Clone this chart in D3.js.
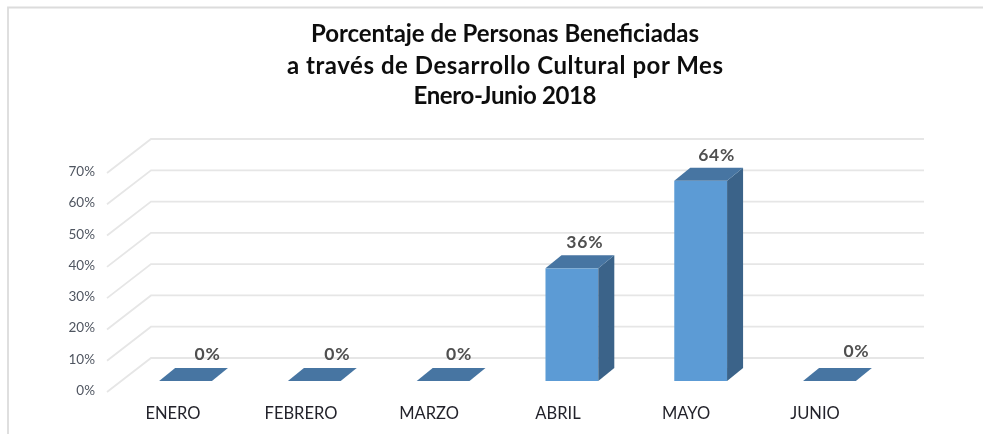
<!DOCTYPE html>
<html><head><meta charset="utf-8">
<script src="https://cdn.jsdelivr.net/npm/d3@7"></script>
<style>html,body{margin:0;background:#fff}svg{display:block}</style></head>
<body><svg id="c" width="983" height="434"></svg>
<script>
const categories = ["ENERO","FEBRERO","MARZO","ABRIL","MAYO","JUNIO"];
const values = [0,0,0,36,64,0];
const valueLabels = ["0%","0%","0%","36%","64%","0%"];
const tickValues = [0,10,20,30,40,50,60,70];
const titleLines = ["Porcentaje de Personas Beneficiadas","a través de Desarrollo Cultural por Mes","Enero-Junio 2018"];

const svg = d3.select("#c");
const defs = svg.append("defs");
defs.append("filter").attr("id","soft").attr("x","-5%").attr("y","-5%").attr("width","110%").attr("height","110%")
  .append("feGaussianBlur").attr("stdDeviation",0.55);
const root = svg.append("g").attr("filter","url(#soft)");

const depthX = 16, depthY = -13;
const x = d3.scaleBand().domain(categories).range([120.5,894.5]).paddingInner(0.59).paddingOuter(0.3);
const y = d3.scaleLinear().domain([0,70]).range([381,162]);

// frame
root.append("path").attr("d","M8 434V7.5H983").attr("fill","none").attr("stroke","#dcdcdc").attr("stroke-width",1.8);

// gridlines: side wall + back wall
const wallX = 151, wallY = -23, sideX = 107, sideY = 11;
const grid = root.append("g").selectAll("g").data(tickValues).join("g");
grid.append("path")
  .attr("d", d => `M${sideX} ${y(d)+sideY}L${wallX} ${y(d)+wallY}H924`)
  .attr("fill","none").attr("stroke","#e6e6e6").attr("stroke-width",1.8);
grid.append("text").text(d => d + "%")
  .attr("x",95).attr("y", d => y(d)+sideY+3)
  .attr("text-anchor","end").attr("font-family","Lato").attr("font-size",13.5).attr("fill","#4f5560");

// bars
const bars = root.append("g").selectAll("g").data(categories.map((c,i)=>({c,v:values[i]}))).join("g");
const W = x.bandwidth();
bars.filter(d=>d.v>0).append("rect")
  .attr("x",d=>x(d.c)).attr("y",d=>y(d.v)).attr("width",W).attr("height",d=>y(0)-y(d.v)).attr("fill","#5b9bd5");
bars.filter(d=>d.v>0).append("path")
  .attr("d",d=>`M${x(d.c)+W} ${y(d.v)}l${depthX} ${depthY}V${y(0)+depthY}l${-depthX} ${-depthY}Z`).attr("fill","#3a6489");
bars.append("path")
  .attr("d",d=>`M${x(d.c)} ${y(d.v)}h${W}l${depthX} ${depthY}h${-W}Z`).attr("fill","#4675a2");

// value labels
const nudge = [22,23,16,13,16,27], rise = [21,21,21,20,20,24];
root.append("g").selectAll("text").data(valueLabels).join("text").text(d=>d)
  .attr("x",(d,i)=>x(categories[i])+W/2+nudge[i])
  .attr("y",(d,i)=>y(values[i])-rise[i])
  .attr("text-anchor","middle").attr("font-family","Lato").attr("font-weight",700).attr("font-size",17.5).attr("letter-spacing",0.8).attr("fill","#505050");

// category labels
const catCenters = [173,301,429,558,686,815];
root.append("g").selectAll("text").data(categories).join("text").text(d=>d)
  .attr("x",(d,i)=>catCenters[i]).attr("y",419)
  .attr("text-anchor","middle").attr("font-family","Lato").attr("font-size",16.5).attr("fill","#23232b");

// title
const titleWidths = [388,436,183];
root.append("g").selectAll("text").data(titleLines).join("text").text(d=>d)
  .attr("x",505).attr("y",(d,i)=>[42,74,104][i])
  .attr("textLength",(d,i)=>titleWidths[i]).attr("lengthAdjust","spacing")
  .attr("text-anchor","middle").attr("font-family","Lato").attr("font-weight",700).attr("font-size",24).attr("fill","#111");
</script></body></html>
